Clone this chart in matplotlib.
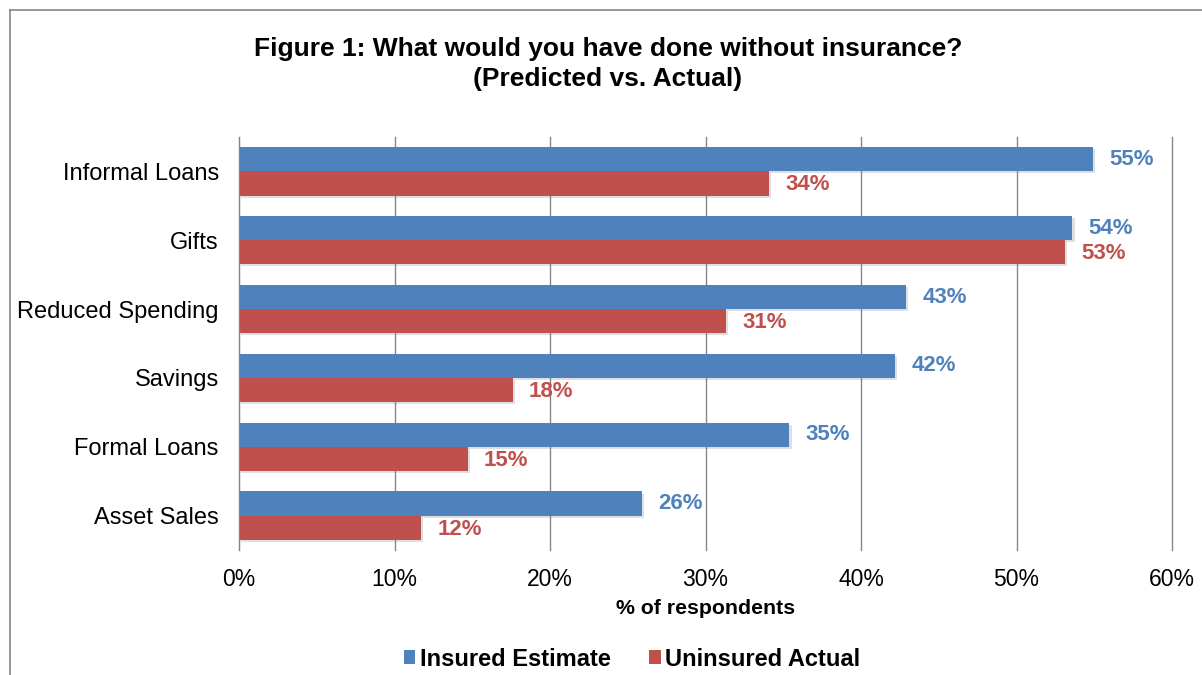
import numpy as np
import matplotlib
matplotlib.use('Agg')
import matplotlib.pyplot as plt
from matplotlib.lines import Line2D
from matplotlib.patches import Patch
import matplotlib.patheffects as pe

plt.rcParams['font.family'] = ['Liberation Sans', 'DejaVu Sans']

categories = ["Informal Loans", "Gifts", "Reduced Spending", "Savings", "Formal Loans", "Asset Sales"]
insured = [54.9, 53.6, 42.9, 42.2, 35.4, 25.9]
uninsured = [34.1, 53.1, 31.3, 17.6, 14.7, 11.7]
insured_labels = ["55%", "54%", "43%", "42%", "35%", "26%"]
uninsured_labels = ["34%", "53%", "31%", "18%", "15%", "12%"]
xticks = [0, 10, 20, 30, 40, 50, 60]

blue = '#4F81BD'
red = '#C0504D'

fig = plt.figure(figsize=(12.02, 6.75), dpi=100)
ax = fig.add_axes([239/1202, 1 - 550/675, (1172 - 239)/1202, (550 - 137)/675])

y = np.arange(len(categories))
h = 0.35
shadow = [pe.SimplePatchShadow(offset=(1.5, -1.5), alpha=0.25, shadow_rgbFace='gray'), pe.Normal()]
ax.barh(y - h/2, insured, height=h, color=blue, zorder=3, path_effects=shadow)
ax.barh(y + h/2, uninsured, height=h, color=red, zorder=3, path_effects=shadow)

for yi, v, lab in zip(y, insured, insured_labels):
    ax.text(v + 1.05, yi - h/2, lab, color=blue, fontsize=16, fontweight='bold',
            va='center', ha='left')
for yi, v, lab in zip(y, uninsured, uninsured_labels):
    ax.text(v + 1.05, yi + h/2 + 0.02, lab, color=red, fontsize=16, fontweight='bold',
            va='center', ha='left')

ax.set_ylim(len(categories) - 0.5, -0.5)
ax.set_xlim(0, 60)
ax.set_yticks(y)
ax.set_yticklabels(categories, fontsize=17)
ax.set_xticks(xticks)
ax.set_xticklabels([f"{t}%" for t in xticks], fontsize=16.5)
ax.tick_params(axis='y', length=0, pad=14.5)
ax.tick_params(axis='x', length=0, pad=13)
ax.grid(axis='x', color='#868686', linewidth=1.0, zorder=0)
for t in ax.xaxis.get_major_ticks():
    t.gridline.set_clip_on(False)
for s in ['top', 'right', 'bottom']:
    ax.spines[s].set_visible(False)
ax.spines['left'].set_color('#868686')
ax.spines['left'].set_zorder(4)

ax.set_xlabel("% of respondents", fontsize=15.3, fontweight='bold', labelpad=6)

fig.text(608/1202, 1 - 49/675, "Figure 1: What would you have done without insurance?",
         ha='center', va='center', fontsize=19, fontweight='bold')
fig.text(608/1202, 1 - 79/675, "(Predicted vs. Actual)",
         ha='center', va='center', fontsize=19, fontweight='bold')

handles = [Patch(facecolor=blue), Patch(facecolor=red)]
fig.legend(handles, ["Insured Estimate", "Uninsured Actual"], loc='center',
           bbox_to_anchor=(632/1202, 1 - 659/675), ncol=2, frameon=False,
           prop={'size': 17, 'weight': 'bold'}, handlelength=0.5, handleheight=0.5,
           handletextpad=0.2, columnspacing=1.6)

# chart border (partly clipped like the source)
bx = 10/1202
by = 1 - 10/675
fig.add_artist(Line2D([bx, 1], [by, by], color='#868686', linewidth=1.2))
fig.add_artist(Line2D([bx, bx], [0, by], color='#868686', linewidth=1.2))

fig.savefig("out.png", dpi=100)
